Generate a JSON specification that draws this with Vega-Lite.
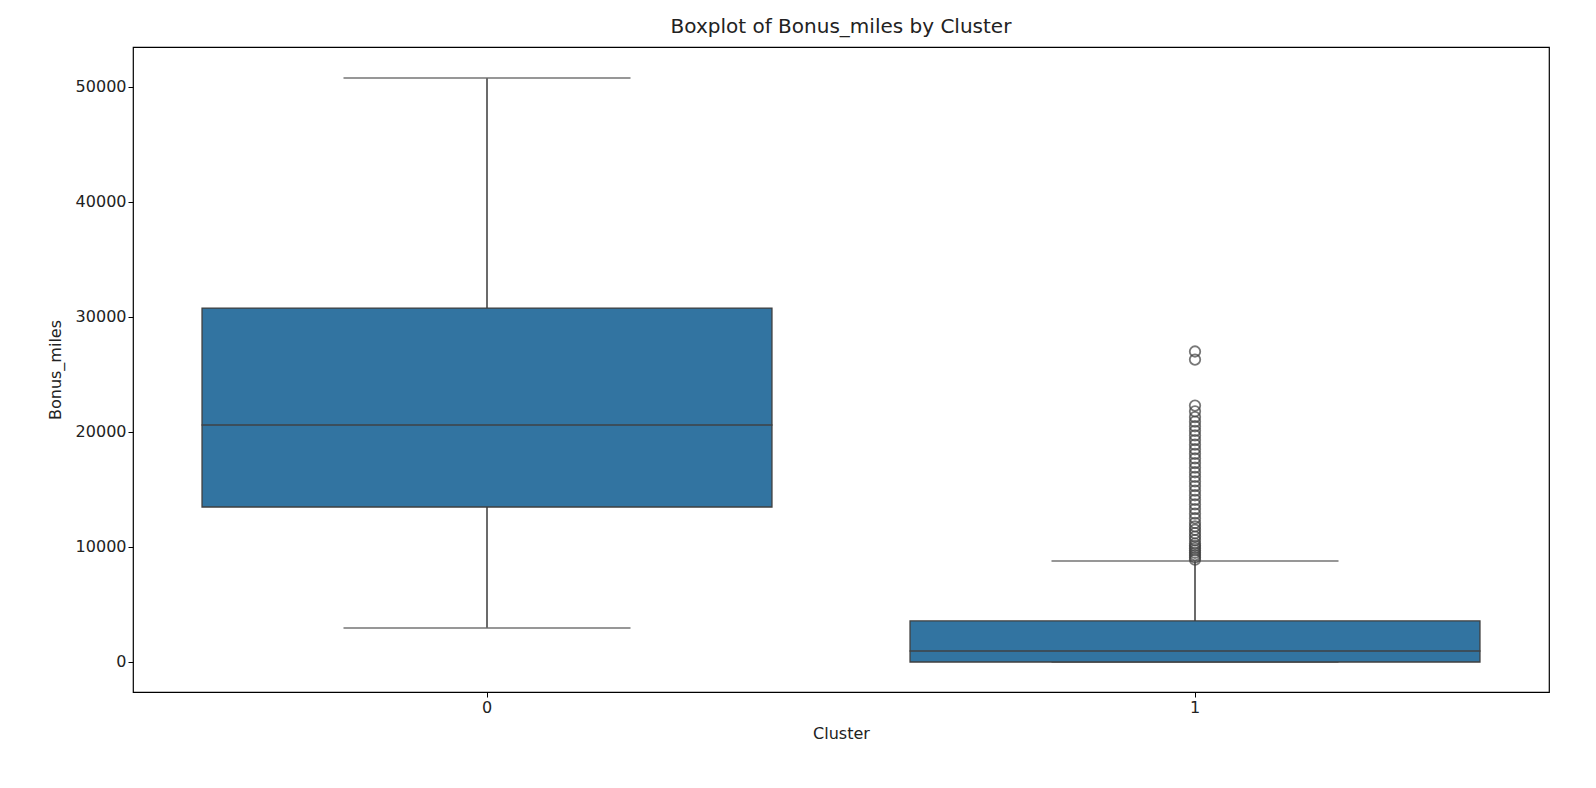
{
"$schema":"https://vega.github.io/schema/vega-lite/v6.json",
"autosize":{"type":"none"},
"padding":{"left":133,"top":47,"right":47,"bottom":96},
"width":1416,"height":645,
"title":{"text":"Boxplot of Bonus_miles by Cluster","font":"DejaVu Sans","fontSize":20,"fontWeight":"normal","color":"#222","offset":10},
"config":{"view":{"stroke":"#000","strokeWidth":1.2},"axis":{"grid":false,"labelFont":"DejaVu Sans","titleFont":"DejaVu Sans","labelFontSize":16,"titleFontSize":16,"titleFontWeight":"normal","labelColor":"#222","titleColor":"#222","domain":false,"tickColor":"#000","tickSize":5}},
"datasets":{
"box":[{"Cluster":"0","min":2960,"q1":13480,"median":20610,"q3":30780,"max":50780},{"Cluster":"1","min":0,"q1":0,"median":960,"q3":3570,"max":8780}],
"out":[{"Cluster":"1","v":8900},{"Cluster":"1","v":9100},{"Cluster":"1","v":9300},{"Cluster":"1","v":9500},{"Cluster":"1","v":9700},{"Cluster":"1","v":9900},{"Cluster":"1","v":10100},{"Cluster":"1","v":10300},{"Cluster":"1","v":10600},{"Cluster":"1","v":10900},{"Cluster":"1","v":11200},{"Cluster":"1","v":11500},{"Cluster":"1","v":11800},{"Cluster":"1","v":12100},{"Cluster":"1","v":12500},{"Cluster":"1","v":12900},{"Cluster":"1","v":13300},{"Cluster":"1","v":13700},{"Cluster":"1","v":14100},{"Cluster":"1","v":14500},{"Cluster":"1","v":14900},{"Cluster":"1","v":15300},{"Cluster":"1","v":15700},{"Cluster":"1","v":16100},{"Cluster":"1","v":16500},{"Cluster":"1","v":16900},{"Cluster":"1","v":17300},{"Cluster":"1","v":17700},{"Cluster":"1","v":18100},{"Cluster":"1","v":18500},{"Cluster":"1","v":18900},{"Cluster":"1","v":19300},{"Cluster":"1","v":19700},{"Cluster":"1","v":20100},{"Cluster":"1","v":20500},{"Cluster":"1","v":20900},{"Cluster":"1","v":21300},{"Cluster":"1","v":21800},{"Cluster":"1","v":22300},{"Cluster":"1","v":26300},{"Cluster":"1","v":27000}]
},
"encoding":{
"x":{"field":"Cluster","type":"nominal","scale":{"paddingInner":0,"paddingOuter":0},"axis":{"labelAngle":0,"title":"Cluster","titlePadding":10}}
},
"layer":[
{"data":{"name":"box"},"mark":{"type":"rule","color":"#6b6b6b","strokeWidth":2},"encoding":{"y":{"field":"min","type":"quantitative","scale":{"domain":[-2609,53478],"nice":false,"zero":false},"axis":{"title":"Bonus_miles","values":[0,10000,20000,30000,40000,50000],"format":"d","titlePadding":12}},"y2":{"field":"max"}}},
{"data":{"name":"box"},"mark":{"type":"tick","color":"#6b6b6b","size":287,"thickness":2},"encoding":{"y":{"field":"min","type":"quantitative"}}},
{"data":{"name":"box"},"mark":{"type":"tick","color":"#6b6b6b","size":287,"thickness":2},"encoding":{"y":{"field":"max","type":"quantitative"}}},
{"data":{"name":"box"},"mark":{"type":"bar","width":{"band":0.805},"fill":"#3274a1","stroke":"#3f3f3f","strokeWidth":1.3},"encoding":{"y":{"field":"q1","type":"quantitative"},"y2":{"field":"q3"}}},
{"data":{"name":"box"},"mark":{"type":"tick","color":"#3f3f3f","size":571,"thickness":2},"encoding":{"y":{"field":"median","type":"quantitative"}}},
{"data":{"name":"out"},"mark":{"type":"point","shape":"circle","filled":false,"stroke":"#3f3f3f","strokeWidth":1.8,"size":110},"encoding":{"y":{"field":"v","type":"quantitative"}}}
]
}
